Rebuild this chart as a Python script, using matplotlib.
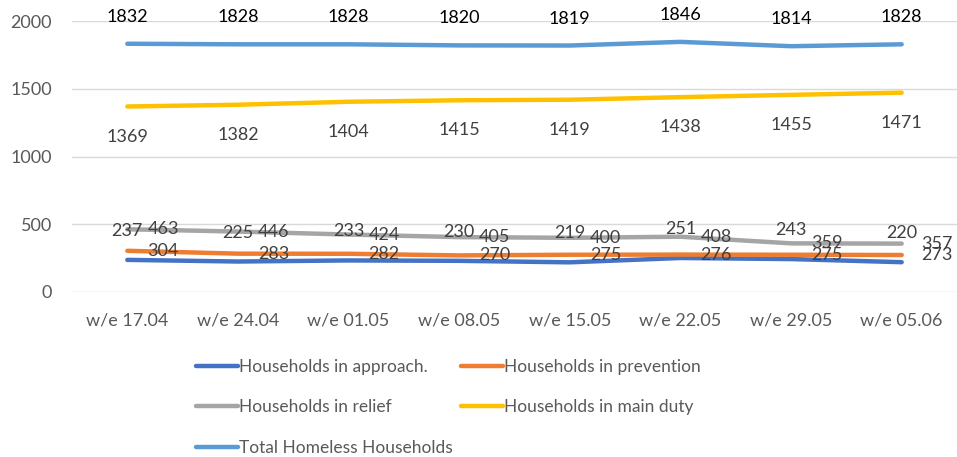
import matplotlib
matplotlib.use("Agg")
import matplotlib.pyplot as plt

categories = ["w/e 17.04", "w/e 24.04", "w/e 01.05", "w/e 08.05",
              "w/e 15.05", "w/e 22.05", "w/e 29.05", "w/e 05.06"]
approach = [237, 225, 233, 230, 219, 251, 243, 220]
prevention = [304, 283, 282, 270, 275, 276, 275, 273]
relief = [463, 446, 424, 405, 400, 408, 359, 357]
main_duty = [1369, 1382, 1404, 1415, 1419, 1438, 1455, 1471]
total = [1832, 1828, 1828, 1820, 1819, 1846, 1814, 1828]
yticks = [0, 500, 1000, 1500, 2000]

plt.rcParams['font.family'] = ['Lato', 'DejaVu Sans']
FS = 13
TXT = '#404040'

fig = plt.figure(figsize=(9.57, 4.57), dpi=100)
ax = fig.add_axes([72/957, (457-292)/457, (957-72)/957, (292-21)/457])
x = list(range(len(categories)))

lw = 3.2
l_app, = ax.plot(x, approach, color='#4472C4', lw=lw, solid_capstyle='round', label='Households in approach.')
l_pre, = ax.plot(x, prevention, color='#ED7D31', lw=lw, solid_capstyle='round', label='Households in prevention')
l_rel, = ax.plot(x, relief, color='#A5A5A5', lw=lw, solid_capstyle='round', label='Households in relief')
l_main, = ax.plot(x, main_duty, color='#FFC000', lw=lw, solid_capstyle='round', label='Households in main duty')
l_tot, = ax.plot(x, total, color='#5B9BD5', lw=lw, solid_capstyle='round', label='Total Homeless Households')

def lab(vals, dx, dy, ha, va='center', color=TXT):
    for i, v in enumerate(vals):
        ax.annotate(str(v), (i, v), xytext=(dx, dy), textcoords='offset pixels',
                    ha=ha, va=va, fontsize=FS, color=color, annotation_clip=False)

lab(approach, 0, 29, 'center')
lab(relief, 20, 0, 'left')
lab(prevention, 20, 0, 'left')
lab(main_duty, 0, -30, 'center')
lab(total, 0, 27, 'center', color='black')

ax.set_xlim(-0.5, len(categories) - 0.5)
ax.set_ylim(0, 2000)
ax.set_yticks(yticks)
ax.set_xticks(x)
ax.set_xticklabels(categories)
ax.grid(axis='y', color='#D9D9D9', lw=1)
ax.set_axisbelow(True)
for s in ax.spines.values():
    s.set_visible(False)
ax.tick_params(axis='both', length=0, labelsize=FS, labelcolor='#595959')
ax.tick_params(axis='y', pad=14.4)
ax.tick_params(axis='x', pad=14.5)

handles = [l_app, l_rel, l_tot, l_pre, l_main]
leg = fig.legend(handles=handles, labels=[h.get_label() for h in handles],
                 ncol=2, loc='upper left', bbox_to_anchor=(196/957, 1 - 359/457),
                 frameon=False, fontsize=12.5, handlelength=2.4, handletextpad=0.1,
                 columnspacing=0.45, labelspacing=1.4, borderpad=0, borderaxespad=0)
for t in leg.get_texts():
    t.set_color('#595959')

fig.savefig('out.png', dpi=100)
